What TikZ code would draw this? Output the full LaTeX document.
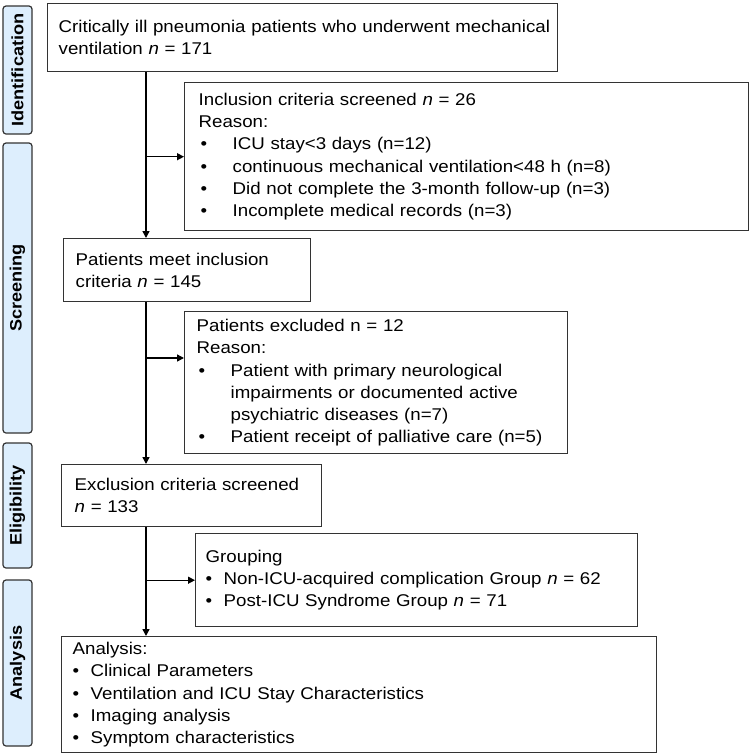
\documentclass[tikz,border=0pt]{standalone}
\usepackage{fontspec}
\setmainfont[FakeStretch=1.1]{Liberation Sans}
\usetikzlibrary{arrows.meta,calc}
\definecolor{boxc}{HTML}{333333}
\definecolor{sidefill}{HTML}{DDEEFD}
\newcommand{\bitem}[1]{\par\hangindent=34pt\hangafter=1\noindent\makebox[34pt][l]{\hspace{2pt}•}\ignorespaces#1}
\newcommand{\sitem}[1]{\par\hangindent=18pt\hangafter=1\noindent\makebox[18pt][l]{•}\ignorespaces#1}
\begin{document}
\begin{tikzpicture}[x=1pt,y=-1pt,
  box/.style={draw=boxc, line width=1.4pt, rectangle, anchor=north west, align=left,
    inner ysep=0pt, font=\fontsize{17}{22.2}\selectfont},
  side/.style={draw=boxc, line width=1.2pt, fill=sidefill, rounded corners=3pt,
    rotate=90, minimum height=29pt, inner sep=0pt, font=\bfseries\fontsize{16.5}{20}\selectfont},
  arr/.style={-{Triangle[length=7pt,width=7pt]}, line width=1.4pt, draw=black}]
\useasboundingbox (0,0) rectangle (749,756);
\fill[white] (0,0) rectangle (749,756);

% side labels
\node[side, minimum width=128pt] (sid) at (17.5,70) {Identification};
\node[side, minimum width=290pt] (sscr) at (17.5,288) {Screening};
\node[side, minimum width=125pt] (selg) at (17.5,505.5) {Eligibility};
\node[side, minimum width=166pt] (sana) at (17.5,663) {Analysis};

% boxes
\node[box, minimum width=510pt, minimum height=68pt, inner xsep=11pt, text width=488pt] (b1) at (47,3)
  {\makebox[\linewidth][l]{Critically ill pneumonia patients who underwent mechanical}\\ventilation \textit{n} = 171};
\node[box, minimum width=564pt, minimum height=148pt, inner xsep=14pt, text width=536pt] (b2) at (184,82)
  {Inclusion criteria screened \textit{n} = 26\\Reason:
   \bitem{ICU stay<3 days (n=12)}
   \bitem{continuous mechanical ventilation<48 h (n=8)}
   \bitem{Did not complete the 3-month follow-up (n=3)}
   \bitem{Incomplete medical records (n=3)}};
\node[box, minimum width=247pt, minimum height=63pt, inner xsep=12pt, text width=223pt] (b3) at (63,238)
  {Patients meet inclusion\\criteria \textit{n} = 145};
\node[box, minimum width=383pt, minimum height=142pt, inner xsep=12pt, text width=359pt] (b4) at (184,311)
  {Patients excluded n = 12\\Reason:
   \bitem{Patient with primary neurological\newline impairments or documented active\newline psychiatric diseases (n=7)}
   \bitem{Patient receipt of palliative care (n=5)}};
\node[box, minimum width=260pt, minimum height=62pt, inner xsep=13pt, text width=234pt] (b5) at (61,464)
  {Exclusion criteria screened\\\textit{n} = 133};
\node[box, minimum width=442pt, minimum height=93pt, inner xsep=10pt, text width=422pt] (b6) at (195,533)
  {Grouping
   \sitem{Non-ICU-acquired complication Group \textit{n} = 62}
   \sitem{Post-ICU Syndrome Group \textit{n} = 71}};
\node[box, minimum width=595pt, minimum height=116pt, inner xsep=11pt, text width=573pt] (b7) at (61,636)
  {Analysis:
   \sitem{Clinical Parameters}
   \sitem{Ventilation and ICU Stay Characteristics}
   \sitem{Imaging analysis}
   \sitem{Symptom characteristics}};

% connectors
\coordinate (tx) at (146,0);
\coordinate (j4) at (146,358);
\draw[arr] (tx |- b1.south) -- (tx |- b3.north);
\draw[arr] (tx |- b2.west) -- (b2.west);
\draw[arr] (tx |- b3.south) -- (tx |- b5.north);
\draw[arr] (j4) -- (j4 -| b4.west);
\draw[arr] (tx |- b5.south) -- (tx |- b7.north);
\draw[arr] (tx |- b6.west) -- (b6.west);
\end{tikzpicture}
\end{document}
